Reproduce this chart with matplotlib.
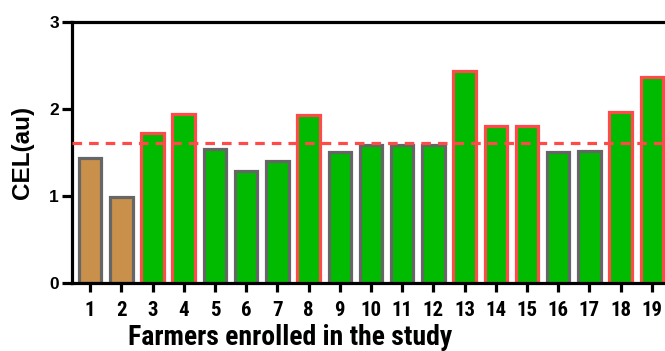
import matplotlib
matplotlib.use("Agg")
import matplotlib.pyplot as plt
from matplotlib import font_manager

# -----------------------------
# Data
# -----------------------------
farmers = list(range(1, 20))
cel = [1.44, 0.99, 1.72, 1.94, 1.54, 1.29, 1.40, 1.93, 1.51, 1.59,
       1.59, 1.59, 2.44, 1.81, 1.80, 1.51, 1.52, 1.97, 2.37]
group = ["brown", "brown", "high", "high", "low", "low", "low", "high", "low", "low",
         "low", "low", "high", "high", "high", "low", "low", "high", "high"]
threshold = 1.61

fill_colors = {"brown": "#C8904A", "high": "#00BB00", "low": "#00BB00"}
edge_colors = {"brown": "#666666", "high": "#FF4A4A", "low": "#666666"}

# narrow bold sans if there is one, else plain Liberation Sans
names = {f.name for f in font_manager.fontManager.ttflist}
narrow = ["Liberation Sans Narrow", "Arial Narrow", "Roboto Condensed", "Archivo Narrow",
          "PT Sans Narrow", "Open Sans Condensed", "IBM Plex Sans Condensed", "Liberation Sans"]
narrow = [f for f in narrow if f in names][:1] + ["DejaVu Sans"]
regular = ["Liberation Sans", "DejaVu Sans"]
plt.rcParams["font.family"] = regular
plt.rcParams["font.weight"] = "bold"

# -----------------------------
# Plot
# -----------------------------
fig = plt.figure(figsize=(6.65, 3.51), dpi=100)
ax = fig.add_axes([0.1083, 0.1937, 0.9, 0.7436])

ax.bar(farmers, cel, width=0.72,
       color=[fill_colors[g] for g in group],
       edgecolor=[edge_colors[g] for g in group],
       linewidth=2.3, zorder=2)
ax.axhline(threshold, color="#FF4A4A", linestyle=(0, (3, 2.2)), linewidth=2.3, zorder=3)

ax.set_xlim(0.42, 19.6)
ax.set_ylim(0, 3)
ax.set_yticks([0, 1, 2, 3])
ax.set_xticks(farmers)

for s in ax.spines.values():
    s.set_linewidth(2.3)
ax.tick_params(axis="x", width=2.3, length=6.5, pad=6.5)
ax.tick_params(axis="y", width=2.3, length=7.5, pad=2, labelsize=12.5)
for t in ax.get_xticklabels():
    t.set_family(narrow)
    t.set_fontsize(15)
    t.set_fontweight("bold")

ax.set_ylabel("CEL(au)", fontsize=17.5, fontweight="bold")
ax.yaxis.set_label_coords(-0.064, 0.5)
ax.set_xlabel("Farmers enrolled in the study", fontsize=20, fontweight="bold", family=narrow,
              va="baseline")
ax.xaxis.set_label_coords((290 - 72) / 598.5, -(345 - 283) / 261)

fig.savefig("out.png", dpi=100)
